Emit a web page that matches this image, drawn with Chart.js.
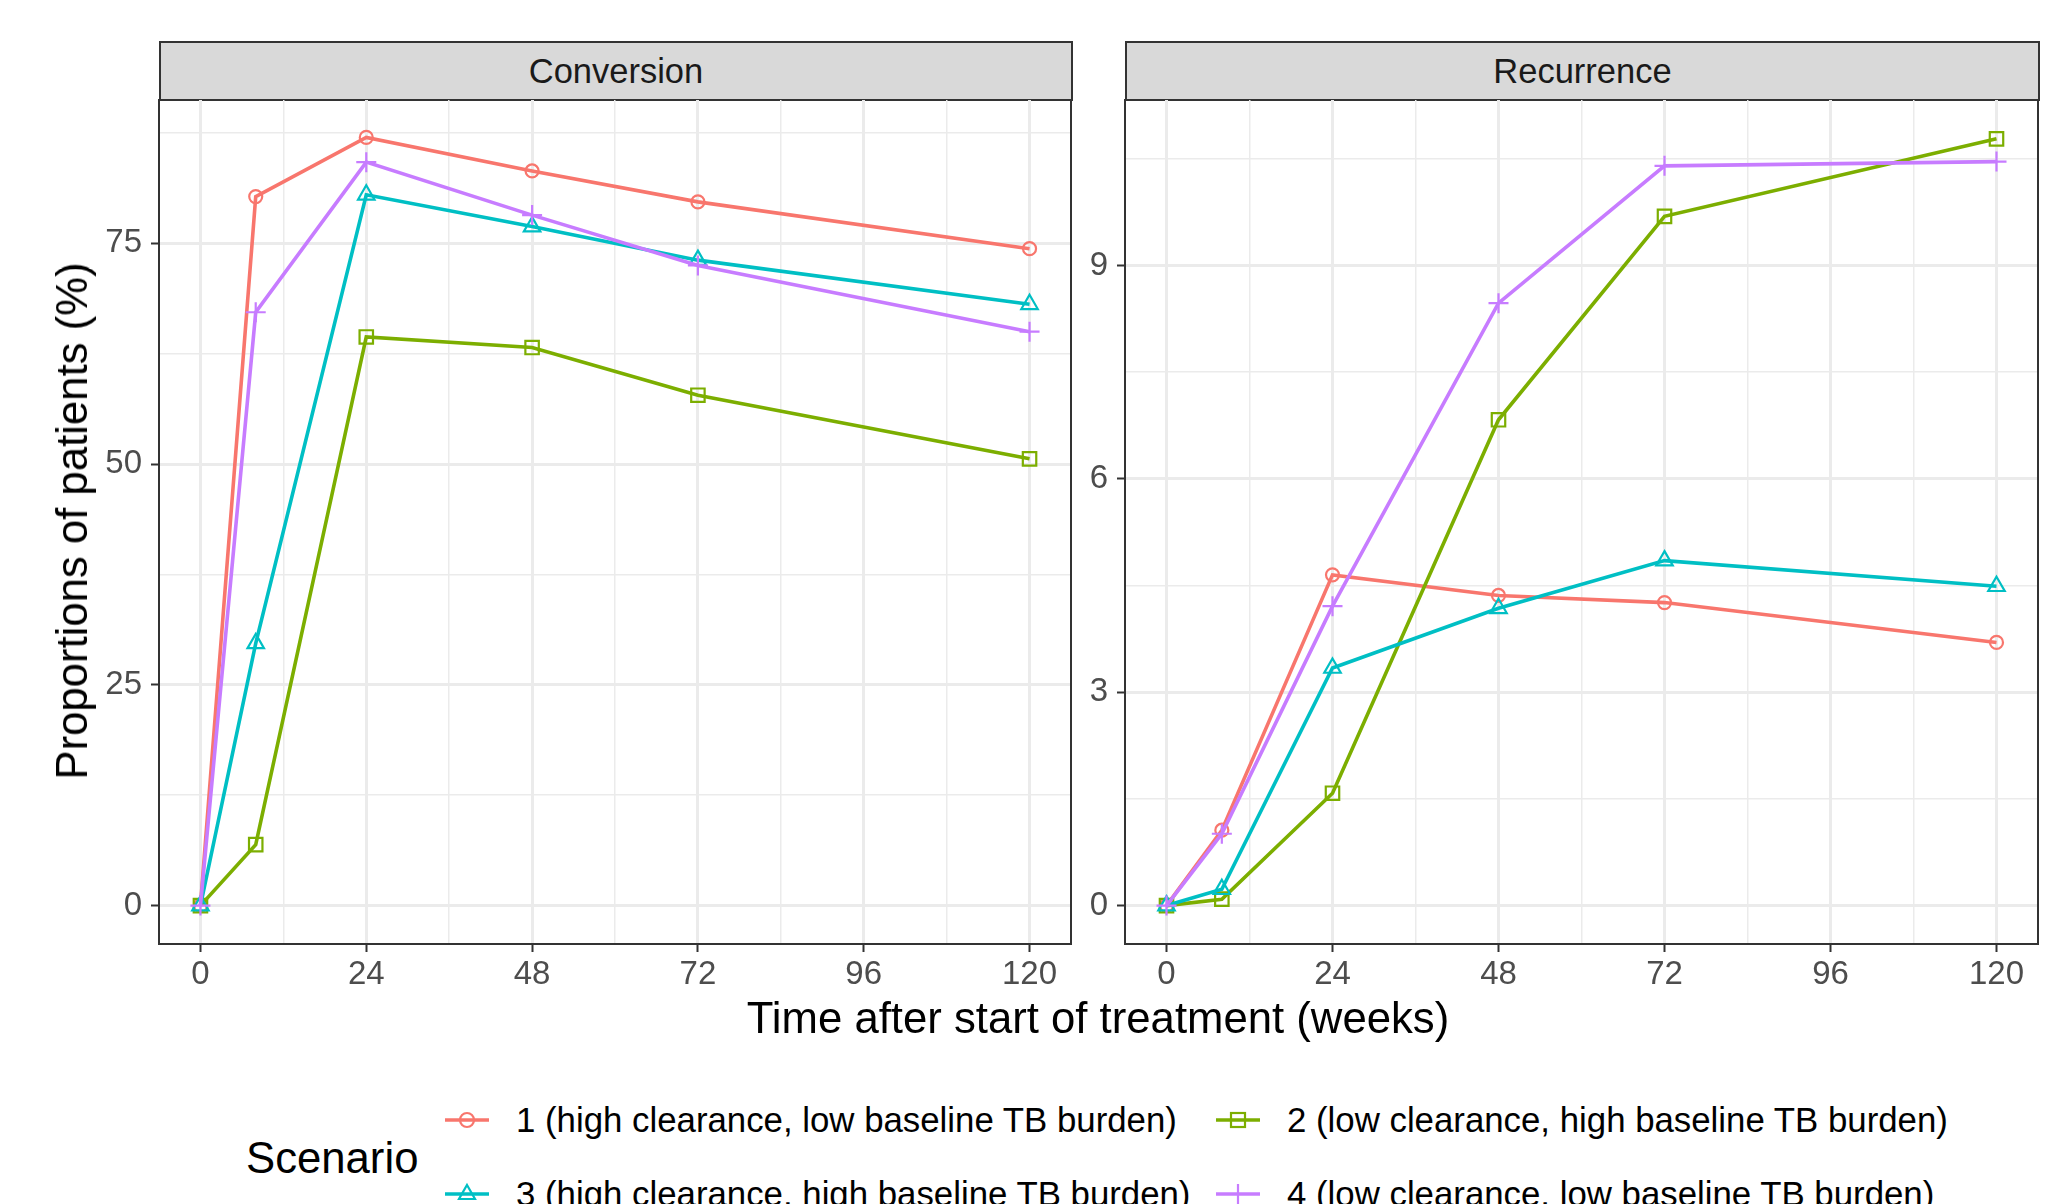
<!DOCTYPE html>
<html>
<head>
<meta charset="utf-8">
<script src="https://cdn.jsdelivr.net/npm/chart.js@4"></script>
<style>
  html, body { margin: 0; padding: 0; background: #fff; }
  body { width: 2064px; height: 1204px; position: relative; overflow: hidden; font-family: "Liberation Sans", Arial, sans-serif; }
  canvas { position: absolute; }
  .strip { position: absolute; top: 41px; height: 56px; background: #D9D9D9; border: 2px solid #333; box-sizing: content-box;
           font-size: 34.5px; color: #1A1A1A; text-align: center; line-height: 56px; }
  .title { position: absolute; font-size: 43.7px; color: #000; white-space: nowrap; }
  .leg { position: absolute; font-size: 34.8px; color: #000; white-space: nowrap; line-height: 40px; }
  .leg svg { position: absolute; left: -71px; top: 0; }
</style>
</head>
<body>
<div class="strip" style="left:159px; width:910px;">Conversion</div>
<div class="strip" style="left:1125px; width:911px;">Recurrence</div>

<canvas id="conv" width="1100" height="905" style="left:0; top:99px;"></canvas>
<canvas id="rec" width="989" height="905" style="left:1075px; top:99px;"></canvas>

<div class="title" style="left:72px; top:521px; transform: translate(-50%, -50%) rotate(-90deg);">Proportions of patients (%)</div>
<div class="title" style="left:1098px; top:1018px; transform: translate(-50%, -50%);">Time after start of treatment (weeks)</div>

<div class="title" style="left:246px; top:1158px; transform: translateY(-50%);">Scenario</div>
<div id="legend"></div>

<script>
// weeks after start of treatment
const weeks = [0, 8, 24, 48, 72, 120];

const scenarios = [
  "1 (high clearance, low baseline TB burden)",
  "2 (low clearance, high baseline TB burden)",
  "3 (high clearance, high baseline TB burden)",
  "4 (low clearance, low baseline TB burden)"
];
const colors = ["#F8766D", "#7CAE00", "#00BFC4", "#C77CFF"];
const shapes = ["circle", "rect", "triangle", "cross"];
const radii = [6.5, 9.5, 9.5, 10];

// Conversion (%)
const conv1 = [0, 80.3, 87.0, 83.2, 79.7, 74.4];
const conv2 = [0, 6.9, 64.4, 63.2, 57.8, 50.6];
const conv3 = [0, 29.7, 80.5, 76.9, 73.1, 68.1];
const conv4 = [0, 67.2, 84.2, 78.2, 72.5, 65.0];

// Recurrence (%)
const rec1 = [0, 1.06, 4.65, 4.36, 4.26, 3.70];
const rec2 = [0, 0.09, 1.58, 6.83, 9.69, 10.78];
const rec3 = [0, 0.23, 3.34, 4.18, 4.85, 4.49];
const rec4 = [0, 1.01, 4.21, 8.47, 10.40, 10.46];

// ticks (major labelled, minor only gridlines)
const xTicks = [0, 12, 24, 36, 48, 60, 72, 84, 96, 108, 120];
const xLabels = [0, 24, 48, 72, 96, 120];
const convTicks = [0, 12.5, 25, 37.5, 50, 62.5, 75, 87.5];
const convLabels = [0, 25, 50, 75];
const recTicks = [0, 1.5, 3, 4.5, 6, 7.5, 9, 10.5];
const recLabels = [0, 3, 6, 9];

const fontFam = "'Liberation Sans', Arial, sans-serif";

const panelBorder = {
  id: 'panelBorder',
  afterDraw(chart) {
    const a = chart.chartArea, ctx = chart.ctx;
    ctx.save();
    ctx.strokeStyle = '#333333';
    ctx.lineWidth = 2;
    ctx.strokeRect(a.left, a.top, a.right - a.left, a.bottom - a.top);
    ctx.restore();
  }
};

function makeChart(id, series, yMin, yMax, yTicks, yLabels, yWidth, padRight) {
  const datasets = series.map((vals, i) => ({
    label: scenarios[i],
    data: weeks.map((w, j) => ({ x: w, y: vals[j] })),
    borderColor: colors[i],
    backgroundColor: 'rgba(0,0,0,0)',
    borderWidth: 3.6,
    pointStyle: shapes[i],
    pointRadius: radii[i],
    pointBorderWidth: 2.2,
    pointBorderColor: colors[i],
    pointBackgroundColor: 'rgba(0,0,0,0)',
    tension: 0,
    order: 3 - i
  }));
  const isMajorX = v => xLabels.includes(v);
  const isMajorY = v => yLabels.includes(v);
  return new Chart(document.getElementById(id), {
    type: 'line',
    data: { datasets: datasets },
    options: {
      responsive: false,
      animation: false,
      layout: { autoPadding: false, padding: { left: 0, right: padRight, top: 0, bottom: 0 } },
      plugins: { legend: { display: false }, tooltip: { enabled: false } },
      scales: {
        x: {
          type: 'linear', min: -6, max: 126,
          afterBuildTicks: s => { s.ticks = xTicks.map(v => ({ value: v })); },
          afterFit: s => { s.height = 60; s.paddingLeft = 0; s.paddingRight = 0; },
          border: { display: false },
          grid: {
            color: '#EBEBEB',
            lineWidth: c => isMajorX(c.tick.value) ? 3 : 1.5,
            tickColor: c => isMajorX(c.tick.value) ? '#333333' : 'rgba(0,0,0,0)',
            tickLength: 8, tickWidth: 2
          },
          ticks: {
            autoSkip: false, maxRotation: 0, padding: 3,
            color: '#4D4D4D', font: { family: fontFam, size: 33 },
            callback: v => isMajorX(v) ? String(v) : ''
          }
        },
        y: {
          type: 'linear', min: yMin, max: yMax,
          afterBuildTicks: s => { s.ticks = yTicks.map(v => ({ value: v })); },
          afterFit: s => { s.width = yWidth; s.paddingTop = 0; s.paddingBottom = 0; },
          border: { display: false },
          grid: {
            color: '#EBEBEB',
            lineWidth: c => isMajorY(c.tick.value) ? 3 : 1.5,
            tickColor: c => isMajorY(c.tick.value) ? '#333333' : 'rgba(0,0,0,0)',
            tickLength: 8, tickWidth: 2
          },
          ticks: {
            autoSkip: false, padding: 9,
            color: '#4D4D4D', font: { family: fontFam, size: 33 },
            callback: v => isMajorY(v) ? String(v) : ''
          }
        }
      }
    },
    plugins: [panelBorder]
  });
}

makeChart('conv', [conv1, conv2, conv3, conv4], -4.35, 91.35, convTicks, convLabels, 159, 29);
makeChart('rec', [rec1, rec2, rec3, rec4], -0.54, 11.34, recTicks, recLabels, 50, 26);

// legend
function icon(i) {
  const c = colors[i];
  let m = '';
  if (shapes[i] === 'circle') m = `<circle cx="22" cy="20" r="7" fill="none" stroke="${c}" stroke-width="2.2"/>`;
  if (shapes[i] === 'rect') m = `<rect x="15" y="13" width="14" height="14" fill="none" stroke="${c}" stroke-width="2.2"/>`;
  if (shapes[i] === 'triangle') m = `<polygon points="22,11 30,25 14,25" fill="none" stroke="${c}" stroke-width="2.2"/>`;
  if (shapes[i] === 'cross') m = `<path d="M22 10 V30 M12 20 H32" stroke="${c}" stroke-width="2.2"/>`;
  return `<svg width="44" height="40"><line x1="0" y1="20" x2="44" y2="20" stroke="${c}" stroke-width="3.6"/>${m}</svg>`;
}
const legPos = [[516, 1100], [1287, 1100], [516, 1174], [1287, 1174]];
document.getElementById('legend').innerHTML = scenarios.map((s, i) =>
  `<div class="leg" style="left:${legPos[i][0]}px; top:${legPos[i][1]}px;">${icon(i)}${s}</div>`).join('');
</script>
</body>
</html>
